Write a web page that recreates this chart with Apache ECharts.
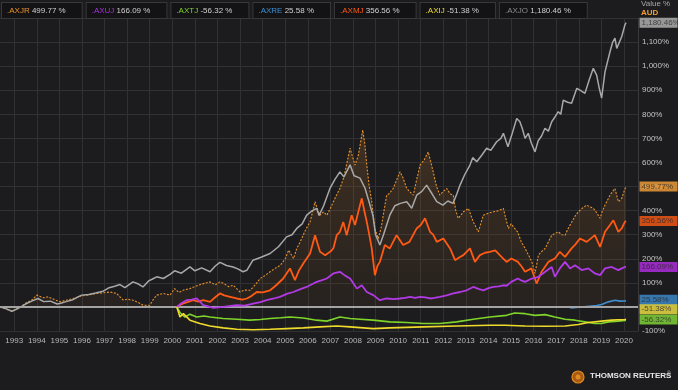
<!DOCTYPE html>
<html><head><meta charset="utf-8">
<script src="https://cdn.jsdelivr.net/npm/echarts@6/dist/echarts.min.js"></script>
<style>html,body{margin:0;padding:0;background:#1c1c1e;}#c{width:678px;height:390px;}</style>
</head><body><div id="c"></div>
<script>
// ---- data (x = decimal year, y = % change) ----
const years = [1993,1994,1995,1996,1997,1998,1999,2000,2001,2002,2003,2004,2005,2006,2007,2008,2009,2010,2011,2012,2013,2014,2015,2016,2017,2018,2019,2020];
const names = ['.AXJR','.AXUJ','.AXTJ','.AXRE','.AXMJ','.AXIJ','.AXJO'];
const lastValues = [499.77,166.09,-56.32,25.58,356.56,-51.38,1180.46];

const axjo = [[1992.37,0],[1992.6,-6],[1992.9,-18],[1993.2,-5],[1993.5,12],[1993.8,25],[1994.05,35],[1994.3,22],[1994.6,24],[1994.9,12],[1995.02,14],[1995.3,22],[1995.6,30],[1995.98,49],[1996.3,52],[1996.6,58],[1996.93,65],[1997.2,80],[1997.45,86],[1997.68,93],[1997.9,80],[1998.26,104],[1998.5,95],[1998.7,83],[1998.95,108],[1999.1,115],[1999.31,125],[1999.6,118],[1999.9,135],[2000.1,150],[2000.4,140],[2000.78,166],[2001.0,150],[2001.3,162],[2001.67,146],[2001.9,170],[2002.11,185],[2002.4,172],[2002.69,166],[2002.9,158],[2003.13,146],[2003.3,152],[2003.57,194],[2003.9,205],[2004.33,222],[2004.7,250],[2005.06,291],[2005.3,300],[2005.51,326],[2005.75,345],[2005.95,381],[2006.2,400],[2006.39,409],[2006.5,380],[2006.7,420],[2006.98,492],[2007.2,530],[2007.42,561],[2007.6,540],[2007.87,590],[2008.05,545],[2008.31,535],[2008.53,494],[2008.7,440],[2008.88,381],[2009.0,300],[2009.19,257],[2009.35,300],[2009.63,381],[2009.85,420],[2010.1,430],[2010.38,437],[2010.6,410],[2010.82,464],[2011.05,480],[2011.26,506],[2011.5,470],[2011.71,437],[2011.98,423],[2012.2,440],[2012.43,430],[2012.6,470],[2012.74,506],[2012.95,550],[2013.18,589],[2013.3,620],[2013.48,603],[2013.7,630],[2013.92,659],[2014.1,650],[2014.36,686],[2014.55,700],[2014.66,721],[2014.86,665],[2015.05,720],[2015.25,783],[2015.39,769],[2015.5,740],[2015.62,700],[2015.76,721],[2015.9,680],[2016.06,644],[2016.2,690],[2016.35,710],[2016.5,742],[2016.65,730],[2016.8,769],[2016.95,790],[2017.09,811],[2017.2,800],[2017.31,859],[2017.5,850],[2017.68,846],[2017.91,908],[2018.05,900],[2018.27,887],[2018.45,940],[2018.64,991],[2018.79,963],[2018.9,910],[2019.01,867],[2019.16,977],[2019.38,1060],[2019.5,1100],[2019.6,1116],[2019.68,1074],[2019.9,1123],[2020.04,1171],[2020.09,1180.46]];

const axjr = [[1992.37,0],[1992.6,-8],[1992.9,-18],[1993.2,-5],[1993.5,15],[1993.8,30],[1994.0,49],[1994.3,38],[1994.5,42],[1994.8,30],[1995.02,21],[1995.3,28],[1995.6,35],[1995.98,46],[1996.3,50],[1996.65,56],[1996.9,58],[1997.24,62],[1997.53,56],[1997.7,40],[1997.83,28],[1998.0,32],[1998.27,28],[1998.5,18],[1998.71,7],[1999.0,7],[1999.15,30],[1999.31,49],[1999.6,56],[1999.9,49],[2000.1,76],[2000.3,60],[2000.5,70],[2000.78,76],[2001.0,85],[2001.3,95],[2001.67,104],[2001.9,92],[2002.11,104],[2002.3,96],[2002.5,84],[2002.7,90],[2003.0,62],[2003.2,70],[2003.45,69],[2003.7,95],[2003.89,118],[2004.1,130],[2004.33,146],[2004.55,160],[2004.78,173],[2005.0,200],[2005.15,236],[2005.37,201],[2005.5,240],[2005.66,270],[2005.9,320],[2006.1,353],[2006.32,437],[2006.45,400],[2006.54,381],[2006.7,395],[2006.84,381],[2007.0,410],[2007.13,437],[2007.3,470],[2007.42,492],[2007.6,540],[2007.87,659],[2008.09,589],[2008.24,631],[2008.43,735],[2008.52,680],[2008.61,589],[2008.72,500],[2008.83,437],[2008.97,326],[2009.12,284],[2009.25,330],[2009.34,381],[2009.49,464],[2009.6,470],[2009.78,492],[2010.08,561],[2010.2,540],[2010.38,492],[2010.5,480],[2010.67,464],[2010.8,520],[2010.97,589],[2011.15,610],[2011.33,644],[2011.45,600],[2011.55,561],[2011.7,500],[2011.85,464],[2012.0,480],[2012.15,492],[2012.3,470],[2012.44,464],[2012.55,400],[2012.66,368],[2012.89,395],[2013.11,409],[2013.33,353],[2013.55,312],[2013.77,381],[2014.0,390],[2014.21,395],[2014.45,400],[2014.66,409],[2014.73,381],[2014.88,326],[2015.0,345],[2015.16,326],[2015.3,310],[2015.45,270],[2015.62,243],[2015.8,210],[2015.92,187],[2016.06,139],[2016.21,215],[2016.35,230],[2016.51,243],[2016.65,270],[2016.8,298],[2016.95,305],[2017.09,312],[2017.25,300],[2017.39,298],[2017.55,330],[2017.69,353],[2017.85,380],[2017.98,395],[2018.15,410],[2018.35,423],[2018.5,415],[2018.65,409],[2018.8,390],[2018.94,368],[2019.05,400],[2019.16,423],[2019.38,464],[2019.5,480],[2019.6,492],[2019.75,437],[2019.9,451],[2020.04,490],[2020.09,499.77]];

const axmj = [[2000.2,0],[2000.5,15],[2000.93,28],[2001.15,22],[2001.37,28],[2001.67,21],[2001.9,40],[2002.11,56],[2002.3,48],[2002.56,42],[2002.85,35],[2003.1,30],[2003.3,35],[2003.5,45],[2003.74,62],[2004.0,60],[2004.33,69],[2004.6,90],[2004.91,118],[2005.21,160],[2005.43,111],[2005.6,150],[2005.8,180],[2006.1,222],[2006.32,298],[2006.54,229],[2006.77,215],[2007.0,230],[2007.13,243],[2007.28,298],[2007.42,312],[2007.57,353],[2007.72,298],[2007.94,381],[2008.09,340],[2008.25,400],[2008.39,451],[2008.5,400],[2008.61,353],[2008.72,300],[2008.83,243],[2008.97,132],[2009.08,170],[2009.19,187],[2009.41,257],[2009.63,243],[2009.93,298],[2010.22,257],[2010.5,270],[2010.82,326],[2011.0,340],[2011.19,368],[2011.41,312],[2011.55,300],[2011.71,270],[2012.0,284],[2012.3,243],[2012.52,194],[2012.7,205],[2012.89,215],[2013.18,243],[2013.4,187],[2013.62,215],[2013.85,225],[2014.06,229],[2014.3,235],[2014.5,215],[2014.8,187],[2015.01,201],[2015.3,187],[2015.45,170],[2015.62,146],[2015.9,160],[2016.13,97],[2016.35,146],[2016.65,187],[2016.94,201],[2017.16,229],[2017.39,208],[2017.68,243],[2017.85,260],[2018.05,284],[2018.35,270],[2018.71,298],[2018.94,249],[2019.16,312],[2019.38,340],[2019.53,360],[2019.75,312],[2019.9,326],[2020.04,353],[2020.09,356.56]];

const axuj = [[2000.2,0],[2000.4,15],[2000.63,28],[2000.85,30],[2001.08,35],[2001.37,7],[2001.6,2],[2001.81,-4],[2002.25,0],[2002.85,7],[2003.2,5],[2003.58,14],[2003.9,20],[2004.17,28],[2004.5,35],[2004.76,42],[2005.1,55],[2005.36,62],[2005.7,75],[2005.95,83],[2006.2,95],[2006.39,104],[2006.6,110],[2006.84,118],[2007.13,139],[2007.42,146],[2007.65,130],[2007.87,118],[2008.0,100],[2008.17,76],[2008.39,90],[2008.61,62],[2008.9,49],[2009.19,28],[2009.49,35],[2009.8,32],[2010.08,35],[2010.3,38],[2010.53,42],[2010.75,38],[2010.97,42],[2011.2,40],[2011.41,35],[2011.6,38],[2011.85,42],[2012.15,48],[2012.44,56],[2012.75,62],[2013.03,69],[2013.33,83],[2013.55,75],[2013.77,69],[2014.0,78],[2014.21,83],[2014.45,85],[2014.66,90],[2014.8,88],[2015.01,104],[2015.3,118],[2015.45,110],[2015.62,104],[2015.92,118],[2016.21,125],[2016.51,146],[2016.8,166],[2016.94,125],[2017.16,160],[2017.39,187],[2017.61,160],[2017.83,173],[2018.13,153],[2018.42,160],[2018.71,139],[2018.94,132],[2019.16,160],[2019.45,166],[2019.75,153],[2019.9,160],[2020.04,166],[2020.09,166.09]];

const axtj = [[2000.2,0],[2000.35,-25],[2000.56,-42],[2000.78,-30],[2001.08,-42],[2001.4,-38],[2001.67,-42],[2002.25,-48],[2002.85,-51],[2003.43,-55],[2003.9,-52],[2004.33,-48],[2004.8,-45],[2005.21,-42],[2005.8,-46],[2006.39,-55],[2006.84,-59],[2007.28,-46],[2007.42,-42],[2007.87,-48],[2008.31,-51],[2008.9,-55],[2009.63,-62],[2010.38,-65],[2011.11,-69],[2011.85,-69],[2012.59,-62],[2013.33,-51],[2014.06,-42],[2014.8,-35],[2015.16,-25],[2015.62,-28],[2016.06,-35],[2016.51,-32],[2016.94,-42],[2017.39,-51],[2017.83,-55],[2018.27,-62],[2018.71,-69],[2019.0,-69],[2019.31,-62],[2019.75,-59],[2020.04,-56],[2020.09,-56.32]];

const axij = [[2000.2,0],[2000.34,-42],[2000.49,-28],[2000.78,-55],[2001.22,-69],[2001.67,-79],[2002.25,-87],[2002.85,-93],[2003.58,-95],[2004.33,-93],[2005.06,-90],[2005.8,-87],[2006.54,-83],[2007.28,-79],[2007.87,-83],[2008.9,-90],[2009.63,-87],[2011.11,-83],[2012.59,-79],[2014.06,-76],[2014.73,-76],[2015.62,-79],[2016.51,-80],[2017.39,-79],[2017.98,-73],[2018.42,-65],[2019.01,-59],[2019.45,-55],[2020.04,-52],[2020.09,-51.38]];

const axre = [[2017.55,0],[2017.68,-4],[2017.9,-2],[2018.13,0],[2018.35,2],[2018.57,4],[2018.8,6],[2019.01,10],[2019.31,21],[2019.6,28],[2019.82,24],[2020.04,25],[2020.09,25.58]];

// ---- styles ----
const FONT = 'Liberation Sans, Arial, sans-serif';
const colors = {'.AXJR':'#e8922e','.AXUJ':'#b13ae6','.AXTJ':'#7fd42a','.AXRE':'#3d8fd1','.AXMJ':'#ff5a14','.AXIJ':'#eedb2c','.AXJO':'#a8a8a8'};
const nameColors = {'.AXJR':'#e8922e','.AXUJ':'#a530d8','.AXTJ':'#7fd42a','.AXRE':'#3d8fd1','.AXMJ':'#ff5a14','.AXIJ':'#eedb2c','.AXJO':'#8a8a8a'};
const boxColors = {'.AXJR':'#f7a23a','.AXUJ':'#b52ee6','.AXTJ':'#86dc3a','.AXRE':'#3d8fd1','.AXMJ':'#ff5a14','.AXIJ':'#f7e646','.AXJO':'#b8b8b8'};
// vertical nudge of end-value boxes so that close ones do not overlap
const boxNudge = {'.AXRE':-1,'.AXIJ':-10,'.AXTJ':-1};
const seriesData = {'.AXJR':axjr,'.AXUJ':axuj,'.AXTJ':axtj,'.AXRE':axre,'.AXMJ':axmj,'.AXIJ':axij,'.AXJO':axjo};

function fmt(v){
  const neg = v < 0; let s = Math.abs(v).toFixed(2);
  let [i,d] = s.split('.');
  i = i.replace(/\B(?=(\d{3})+(?!\d))/g, ',');
  return (neg?'-':'') + i + '.' + d;
}
function fmtInt(v){ return String(v).replace(/\B(?=(\d{3})+(?!\d))/g, ','); }

const rich = {v:{color:'#cfcfcf', fontSize:8, fontFamily:FONT}};
names.forEach((n,i)=>{ rich['n'+i] = {color:nameColors[n], fontSize:8, fontFamily:FONT}; });

const lineSeries = (name, width, extra) => Object.assign({
  name, type:'line', data: seriesData[name], showSymbol:false, symbol:'none',
  lineStyle:{color:colors[name], width}, itemStyle:{color:colors[name]},
  animation:false, silent:true
}, extra||{});

const series = [
  lineSeries('.AXJR', 1, {
    lineStyle:{color:colors['.AXJR'], width:1.1, type:[2,1.5]},
    areaStyle:{color:{type:'linear',x:0,y:0,x2:0,y2:1,colorStops:[{offset:0,color:'rgba(175,110,45,0.36)'},{offset:1,color:'rgba(130,85,40,0.14)'}]}},
    z:2
  }),
  lineSeries('.AXJO', 1.5, {z:3, markLine:{silent:true, symbol:['none','none'], label:{show:false}, animation:false,
      lineStyle:{color:'#a3a3a3', width:2, type:'solid'}, data:[{yAxis:0}]}}),
  lineSeries('.AXRE', 1.6, {z:4}),
  lineSeries('.AXMJ', 1.8, {z:5}),
  lineSeries('.AXUJ', 1.8, {z:5}),
  lineSeries('.AXTJ', 1.6, {z:6}),
  lineSeries('.AXIJ', 1.6, {z:6}),
  {
    name:'_labels', type:'scatter', symbolSize:1, itemStyle:{color:'rgba(0,0,0,0)'}, z:20, animation:false, silent:true,
    data: names.map((n,i)=>{
      const d = seriesData[n]; const last = d[d.length-1];
      return {value:[last[0], lastValues[i]], label:{backgroundColor:boxColors[n], offset:[0, boxNudge[n]||0]}};
    }),
    label:{show:true, position:'right', distance:13, formatter:p=>fmt(p.value[1])+'%',
      color:'#2a2a2a', fontSize:8, fontFamily:FONT, width:35, padding:[1,1,0,2], lineHeight:9, overflow:'none'}
  }
];

const chart = echarts.init(document.getElementById('c'), null, {renderer:'canvas'});
chart.setOption({
  backgroundColor:'#1c1c1e',
  animation:false,
  grid:{left:0, right:40, top:18, bottom:59, containLabel:false},
  legend:{
    data:names, left:-3, top:2, padding:0, itemWidth:0, itemHeight:0, itemGap:-1, selectedMode:false, icon:'rect',
    formatter: name => { const i = names.indexOf(name); return '{n'+i+'|'+name+'} {v|'+fmt(lastValues[i])+' %}'; },
    textStyle:{backgroundColor:'#131315', borderColor:'#38383b', borderWidth:1, padding:[3,16,2,5], fontSize:8, lineHeight:10, fontFamily:FONT, rich}
  },
  xAxis:{
    type:'value', min:1992.37, max:2020.62,
    axisLine:{show:false}, axisTick:{show:false, customValues:years},
    axisLabel:{customValues:years, formatter:v=>String(Math.round(v)), color:'#b8b8b8', fontSize:8, fontFamily:FONT, margin:6},
    splitLine:{show:true, lineStyle:{color:'#313133', width:1}}
  },
  yAxis:{
    type:'value', position:'right', min:-100, max:1200, interval:100,
    name:'{a|Value %}\n{b|AUD}', nameLocation:'end', nameGap:1,
    nameTextStyle:{align:'left', verticalAlign:'bottom', padding:[0,0,0,3],
      rich:{a:{color:'#a8a8a8', fontSize:8, lineHeight:8, fontFamily:FONT}, b:{color:'#f0a030', fontSize:8, lineHeight:9, fontWeight:'bold', fontFamily:FONT}}},
    axisLine:{show:true, lineStyle:{color:'#3a3a3c'}}, axisTick:{show:false},
    axisLabel:{color:'#c4c4c4', fontSize:8, fontFamily:FONT, margin:4,
      formatter:v=> (v===0||v===1200) ? '' : fmtInt(v)+'%'},
    splitLine:{show:true, lineStyle:{color:'#313133', width:1}}
  },
  graphic:[
    {type:'circle', shape:{cx:578, cy:377, r:6}, style:{fill:'#a85a10', stroke:'#e08a22', lineWidth:1.2}, silent:true},
    {type:'circle', shape:{cx:578, cy:377, r:2.5}, style:{fill:'#e08a22'}, silent:true},
    {type:'text', left:590, top:372, style:{text:'THOMSON REUTERS', fill:'#e6e6e6', font:'bold 8px '+FONT}, silent:true},
    {type:'text', left:667, top:371, style:{text:'®', fill:'#bbb', font:'5px '+FONT}, silent:true}
  ],
  series
});
</script></body></html>
